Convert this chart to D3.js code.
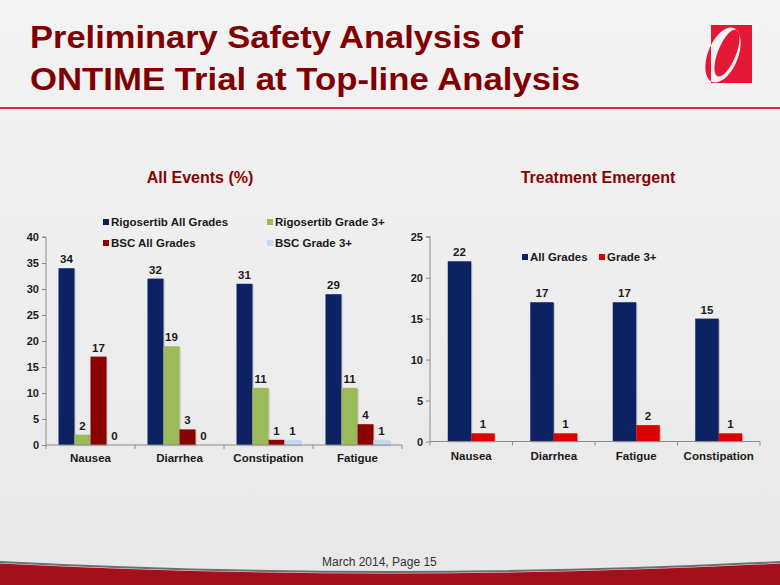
<!DOCTYPE html>
<html><head><meta charset="utf-8">
<script src="https://cdn.jsdelivr.net/npm/d3@7"></script>
<style>
html,body{margin:0;padding:0;}
body{width:780px;height:585px;overflow:hidden;font-family:"Liberation Sans",Arial,sans-serif;}
</style></head>
<body>
<svg id="c" width="780" height="585"></svg>
<script>
// ---- data ----
const leftCategories = ["Nausea","Diarrhea","Constipation","Fatigue"];
const leftSeries = ["Rigosertib All Grades","Rigosertib Grade 3+","BSC All Grades","BSC Grade 3+"];
const rigoAll = [34,32,31,29];
const rigoG3 = [2,19,11,11];
const bscAll = [17,3,1,4];
const bscG3 = [0,0,1,1];
const leftTicks = [0,5,10,15,20,25,30,35,40];

const rightCategories = ["Nausea","Diarrhea","Fatigue","Constipation"];
const rightSeries = ["All Grades","Grade 3+"];
const teAll = [22,17,17,15];
const teG3 = [1,1,2,1];
const rightTicks = [0,5,10,15,20,25];

const svg = d3.select("#c");
const defs = svg.append("defs");
const bg = defs.append("linearGradient").attr("id","bg").attr("x1",0).attr("y1",0).attr("x2",0).attr("y2",1);
bg.append("stop").attr("offset","0").attr("stop-color","#f3f3f3");
bg.append("stop").attr("offset","1").attr("stop-color","#e8e8e8");
svg.append("rect").attr("width",780).attr("height",585).attr("fill","url(#bg)");

// title
const titleColor = "#800000";
svg.append("text").attr("x",30).attr("y",48).attr("fill",titleColor)
  .attr("font-size",32).attr("font-weight","bold")
  .attr("textLength",493).attr("lengthAdjust","spacingAndGlyphs").text("Preliminary Safety Analysis of");
svg.append("text").attr("x",30).attr("y",90).attr("fill",titleColor)
  .attr("font-size",32).attr("font-weight","bold")
  .attr("textLength",550).attr("lengthAdjust","spacingAndGlyphs").text("ONTIME Trial at Top-line Analysis");
svg.append("rect").attr("x",0).attr("y",107).attr("width",780).attr("height",2).attr("fill","#e2233d");

// logo
const lg = svg.append("g");
defs.append("clipPath").attr("id","inRect").append("rect").attr("x",711).attr("y",25).attr("width",41).attr("height",58);
defs.append("clipPath").attr("id","outRect").append("path")
  .attr("d","M600,0H780V120H600Z M711,25V83H752V25Z").attr("clip-rule","evenodd");
lg.append("rect").attr("x",711).attr("y",25).attr("width",41).attr("height",58).attr("fill","#e31837");
const crescentD = (()=>{
  function ell(cx,cy,rx,ry,rot,n){
    const pts=[];const r=rot*Math.PI/180;
    for(let i=0;i<=n;i++){const a=2*Math.PI*i/n;const x=rx*Math.cos(a),y=ry*Math.sin(a);
      pts.push([cx+x*Math.cos(r)-y*Math.sin(r), cy+x*Math.sin(r)+y*Math.cos(r)]);}
    return "M"+pts.map(p=>p[0].toFixed(2)+","+p[1].toFixed(2)).join("L")+"Z";
  }
  return ell(723,55,15,29,22,60)+ell(727,53,9,25,22,60);
})();
lg.append("path").attr("d",crescentD).attr("fill-rule","evenodd").attr("fill","#e31837").attr("clip-path","url(#outRect)");
lg.append("path").attr("d",crescentD).attr("fill-rule","evenodd").attr("fill","#f2f2f2").attr("clip-path","url(#inRect)");

// subtitles
svg.append("text").attr("x",200).attr("y",183).attr("text-anchor","middle").attr("fill","#8b0000")
  .attr("font-size",16).attr("font-weight","bold").text("All Events (%)");
svg.append("text").attr("x",598).attr("y",183).attr("text-anchor","middle").attr("fill","#8b0000")
  .attr("font-size",16).attr("font-weight","bold").text("Treatment Emergent");

const axisColor = "#8c8c8c";
function drawChart(opts){
  const g = svg.append("g");
  const y = d3.scaleLinear().domain(opts.domain).range([opts.y0,opts.y1]);
  const x0 = d3.scaleBand().domain(opts.categories).range([opts.x0,opts.x1]);
  const groupW = opts.barW*opts.series.length;
  const x1 = d3.scaleBand().domain(opts.series).range([0,groupW]);
  const ya = d3.axisLeft(y).tickValues(opts.ticks).tickSize(4).tickPadding(3);
  const yg = g.append("g").attr("transform",`translate(${opts.x0},0)`).call(ya);
  yg.select(".domain").attr("stroke",axisColor).attr("d",`M-4,${opts.y1}H0V${opts.y0}`);
  yg.selectAll(".tick line").attr("stroke",axisColor);
  yg.selectAll(".tick text").attr("font-size",11).attr("font-weight","bold").attr("fill","#1a1a1a")
    .attr("font-family","Liberation Sans, Arial, sans-serif");
  const off = (x0.bandwidth()-groupW)/2;
  opts.values.forEach((vals,si)=>{
    const sname = opts.series[si];
    g.selectAll(null).data(vals).enter().append("rect")
      .attr("x",(d,i)=>x0(opts.categories[i])+off+x1(sname)+1.2)
      .attr("y",d=>y(d)+1.2).attr("width",x1.bandwidth()).attr("height",d=>y(0)-y(d))
      .attr("fill","rgba(0,0,0,0.15)");
    g.selectAll(null).data(vals).enter().append("rect")
      .attr("x",(d,i)=>x0(opts.categories[i])+off+x1(sname))
      .attr("y",d=>y(d)).attr("width",x1.bandwidth()).attr("height",d=>y(0)-y(d))
      .attr("fill",opts.colors[si]);
    g.selectAll(null).data(vals).enter().append("text")
      .attr("x",(d,i)=>x0(opts.categories[i])+off+x1(sname)+x1.bandwidth()/2)
      .attr("y",d=>y(d)-5).attr("text-anchor","middle")
      .attr("font-size",11.5).attr("font-weight","bold").attr("fill","#1a1a1a").text(d=>d);
  });
  const xg = g.append("g").attr("transform",`translate(0,${opts.y0})`);
  xg.append("line").attr("x1",opts.x0).attr("x2",opts.x1).attr("stroke",axisColor);
  const bounds = opts.categories.map(c=>x0(c)).concat([opts.x1]);
  xg.selectAll(null).data(bounds).enter().append("line")
    .attr("x1",d=>d).attr("x2",d=>d).attr("y1",0).attr("y2",4).attr("stroke",axisColor);
  xg.selectAll(null).data(opts.categories).enter().append("text")
    .attr("x",d=>x0(d)+x0.bandwidth()/2).attr("y",opts.labelDy).attr("text-anchor","middle")
    .attr("font-size",11.5).attr("font-weight","bold").attr("fill","#1a1a1a").text(d=>d);
  opts.legend.forEach((L,i)=>{
    g.append("rect").attr("x",L.x).attr("y",L.y-3).attr("width",6).attr("height",6).attr("fill",opts.colors[i]);
    g.append("text").attr("x",L.x+8).attr("y",L.y+4).attr("font-size",11.5).attr("font-weight","bold")
      .attr("fill","#1a1a1a").text(opts.series[i]);
  });
}

drawChart({
  categories:leftCategories, series:leftSeries, values:[rigoAll,rigoG3,bscAll,bscG3],
  colors:["#0c2262","#9bbb59","#8b0000","#c6d9f1"],
  domain:[0,40], ticks:leftTicks, x0:46, x1:402, y0:445, y1:237, barW:16, labelDy:17,
  legend:[{x:103,y:222},{x:267,y:222},{x:103,y:243},{x:267,y:243}]
});
drawChart({
  categories:rightCategories, series:rightSeries, values:[teAll,teG3],
  colors:["#0c2262","#dd0000"],
  domain:[0,25], ticks:rightTicks, x0:430, x1:760, y0:441.5, y1:236.7, barW:23.5, labelDy:18,
  legend:[{x:522,y:257},{x:599,y:257}]
});

// footer
svg.append("text").attr("x",322).attr("y",566).attr("font-size",12).attr("fill","#333").text("March 2014, Page 15");
svg.append("path").attr("d","M0,562 Q390,582 780,562").attr("fill","none").attr("stroke","#6e6e6e").attr("stroke-width",2);
svg.append("path").attr("d","M0,563.5 Q390,583.5 780,563.5 L780,585 L0,585 Z").attr("fill","#a50f1c");
</script>
</body></html>
